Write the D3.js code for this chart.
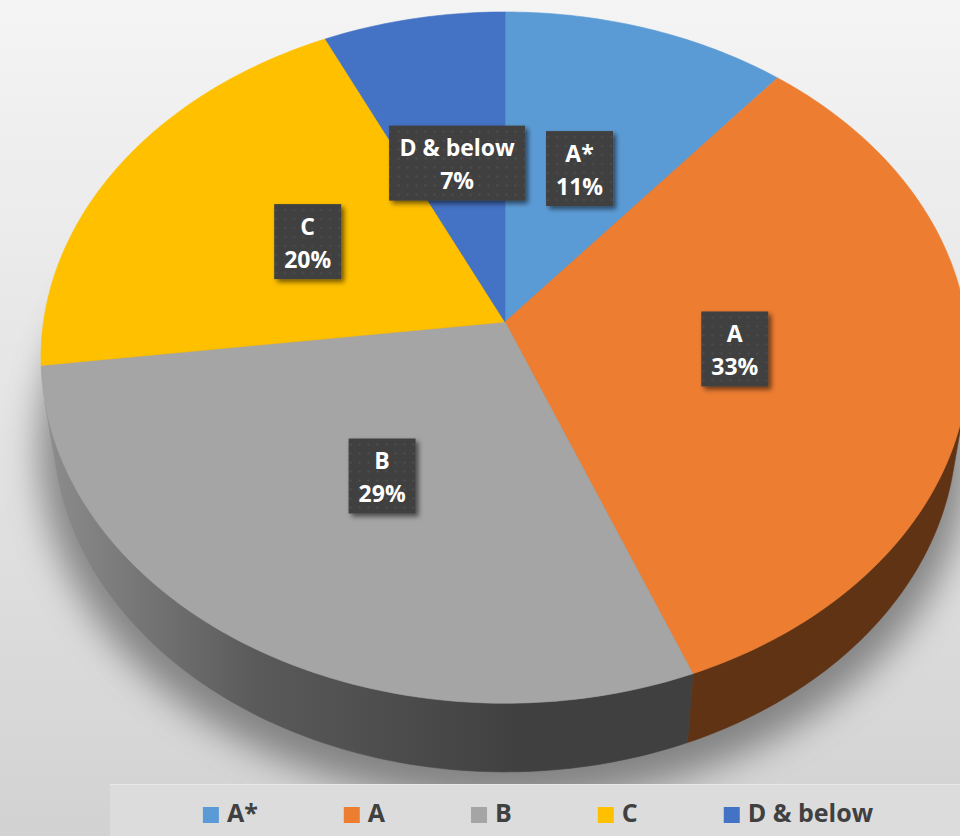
<!DOCTYPE html>
<html>
<head>
<meta charset="utf-8">
<script src="https://cdn.jsdelivr.net/npm/d3@7/dist/d3.min.js"></script>
<style>
  html, body { margin: 0; padding: 0; background: #eee; }
  svg { display: block; }
</style>
</head>
<body>
<div id="chart"></div>
<script>
(function () {
  'use strict';

  // Data
  var categories = ['A*', 'A', 'B', 'C', 'D & below'];
  var shares = [11, 33, 29, 20, 7];
  var topColors = ['#5B9BD5', '#ED7D31', '#A5A5A5', '#FFC000', '#4472C4'];
  var sideColors = ['#2f5f8c', '#5f3314', 'url(#side-b)', '#9c7500', '#284a87'];

  var width = 960;
  var height = 836;

  // Perspective camera for the 3D pie (radius = 1 in world units)
  var cx = 505, cy = 322;
  var focal = 3009;
  var dist = 6.52;
  var pitch = Math.asin(0.741);
  var thickness = 0.238;
  var sp = Math.sin(pitch), cp = Math.cos(pitch);

  function project(theta, r, yw) {
    var X = r * Math.sin(theta);
    var Z = r * Math.cos(theta);
    var depth = dist - yw * sp + Z * cp;
    return [cx + focal * X / depth, cy - focal * (yw * cp + Z * sp) / depth];
  }

  function arcPoints(a0, a1, r, yw) {
    var n = Math.max(2, Math.ceil(Math.abs(a1 - a0) / (Math.PI / 180)));
    var t = d3.scaleLinear().domain([0, n]).range([a0, a1]);
    return d3.range(n + 1).map(function (i) { return project(t(i), r, yw); });
  }

  var line = d3.line();

  var svg = d3.select('#chart').append('svg')
    .attr('width', width)
    .attr('height', height);

  var defs = svg.append('defs');

  var bg = defs.append('linearGradient').attr('id', 'bg')
    .attr('x1', 0).attr('y1', 0).attr('x2', 0).attr('y2', 1);
  bg.append('stop').attr('offset', 0).attr('stop-color', '#f4f4f4');
  bg.append('stop').attr('offset', 0.5).attr('stop-color', '#e4e4e4');
  bg.append('stop').attr('offset', 1).attr('stop-color', '#d2d2d2');

  var sideB = defs.append('linearGradient').attr('id', 'side-b')
    .attr('gradientUnits', 'userSpaceOnUse')
    .attr('x1', 40).attr('y1', 0).attr('x2', 520).attr('y2', 0);
  sideB.append('stop').attr('offset', 0).attr('stop-color', '#8e8e8e');
  sideB.append('stop').attr('offset', 0.45).attr('stop-color', '#5a5a5a');
  sideB.append('stop').attr('offset', 1).attr('stop-color', '#404040');

  defs.append('filter').attr('id', 'soft')
    .attr('x', '-20%').attr('y', '-20%').attr('width', '140%').attr('height', '140%')
    .append('feGaussianBlur').attr('stdDeviation', 18);

  var shadowF = defs.append('filter').attr('id', 'box-shadow')
    .attr('x', '-20%').attr('y', '-20%').attr('width', '150%').attr('height', '150%');
  shadowF.append('feDropShadow')
    .attr('dx', 3).attr('dy', 3).attr('stdDeviation', 2.5)
    .attr('flood-color', '#000').attr('flood-opacity', 0.55);

  var dots = defs.append('pattern').attr('id', 'dots')
    .attr('patternUnits', 'userSpaceOnUse')
    .attr('width', 9).attr('height', 9);
  dots.append('rect').attr('width', 9).attr('height', 9).attr('fill', '#404040');
  dots.append('circle').attr('cx', 4.5).attr('cy', 4.5).attr('r', 1.1).attr('fill', '#505050');

  // Background
  svg.append('rect').attr('width', width).attr('height', height).attr('fill', 'url(#bg)');

  // Soft floor shadow under the pie
  svg.append('path')
    .attr('d', line(arcPoints(0, 2 * Math.PI, 1.03, -thickness)) + 'Z')
    .attr('transform', 'translate(0,18)')
    .attr('fill', '#6e6e6e')
    .attr('opacity', 0.8)
    .attr('filter', 'url(#soft)');

  var pie = d3.pie().sort(null).value(function (d) { return d; });
  var arcs = pie(shares);

  // Visible front part of the outer wall
  var vis0 = Math.acos(-1 / (dist * cp));
  var vis1 = 2 * Math.PI - vis0;

  var sides = svg.append('g').attr('class', 'sides');
  arcs.forEach(function (a, i) {
    var a0 = Math.max(a.startAngle, vis0);
    var a1 = Math.min(a.endAngle, vis1);
    if (a0 >= a1) return;
    var pts = arcPoints(a0, a1, 1, 0).concat(arcPoints(a1, a0, 1, -thickness));
    sides.append('path')
      .attr('d', line(pts) + 'Z')
      .attr('fill', sideColors[i])
      .attr('stroke', sideColors[i])
      .attr('stroke-width', 0.6);
  });

  var tops = svg.append('g').attr('class', 'tops');
  arcs.forEach(function (a, i) {
    var pts = [project(0, 0, 0)].concat(arcPoints(a.startAngle, a.endAngle, 1, 0));
    tops.append('path')
      .attr('d', line(pts) + 'Z')
      .attr('fill', topColors[i])
      .attr('stroke', topColors[i])
      .attr('stroke-width', 0.6);
  });

  // Data labels
  var labelFont = '"Open Sans", "DejaVu Sans", sans-serif';
  var labels = svg.append('g').attr('class', 'labels');
  var placed = [];
  arcs.forEach(function (a, i) {
    var mid = (a.startAngle + a.endAngle) / 2;
    var p = project(mid, 0.5, 0);
    var g = labels.append('g');
    var rect = g.append('rect')
      .attr('fill', 'url(#dots)')
      .attr('filter', 'url(#box-shadow)');
    var text = g.append('text')
      .attr('text-anchor', 'middle')
      .attr('fill', '#fff')
      .attr('font-family', labelFont)
      .attr('font-weight', 700)
      .attr('font-size', 23);
    text.append('tspan').attr('x', 0).attr('y', -7).text(categories[i]);
    text.append('tspan').attr('x', 0).attr('y', 26).text(shares[i] + '%');
    var tw = text.node().getBBox().width;
    var w = Math.round(tw + 20), h = 75;

    var box = { x: p[0] - w / 2, y: p[1] - h / 2, w: w, h: h };
    placed.forEach(function (o) {
      var vOverlap = box.y < o.y + o.h && o.y < box.y + box.h;
      if (!vOverlap) return;
      var pad = 20;
      if (box.x + box.w / 2 < o.x + o.w / 2) {
        if (box.x + box.w > o.x - pad) box.x = o.x - pad - box.w;
      } else if (box.x < o.x + o.w + pad) {
        box.x = o.x + o.w + pad;
      }
    });
    placed.push(box);

    rect.attr('x', -w / 2).attr('y', -h / 2).attr('width', w).attr('height', h);
    g.attr('transform', 'translate(' + (box.x + w / 2) + ',' + (box.y + h / 2) + ')');
  });

  // Legend band
  var legendTop = 784;
  svg.append('rect')
    .attr('x', 110).attr('y', legendTop)
    .attr('width', width - 110).attr('height', height - legendTop)
    .attr('fill', '#dcdcdc');
  svg.append('line')
    .attr('x1', 110).attr('x2', width)
    .attr('y1', legendTop + 0.5).attr('y2', legendTop + 0.5)
    .attr('stroke', '#e8e8e8');

  var legend = svg.append('g').attr('class', 'legend');
  var swatch = 16, gapIn = 8, gapOut = 86;
  var x = 0;
  categories.forEach(function (c, i) {
    var g = legend.append('g');
    g.append('rect')
      .attr('y', -swatch + 1).attr('width', swatch).attr('height', swatch)
      .attr('fill', topColors[i]);
    var t = g.append('text')
      .attr('x', swatch + gapIn)
      .attr('fill', '#404040')
      .attr('font-family', labelFont)
      .attr('font-weight', 700)
      .attr('font-size', 25)
      .text(c);
    var w = swatch + gapIn + t.node().getComputedTextLength();
    g.attr('transform', 'translate(' + x + ',0)');
    x += w + gapOut;
  });
  var total = x - gapOut;
  legend.attr('transform', 'translate(' + (538 - total / 2) + ',822)');
})();
</script>
</body>
</html>
